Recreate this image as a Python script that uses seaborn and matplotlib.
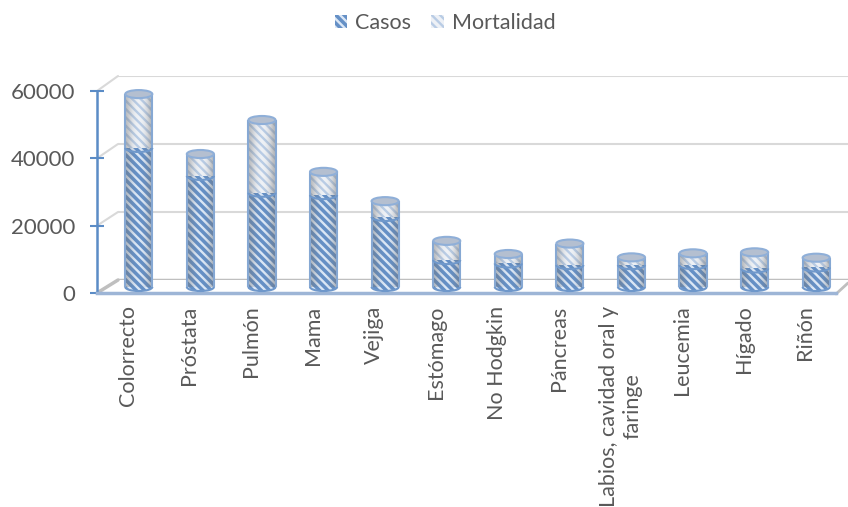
import numpy as np
import pandas as pd
import matplotlib
matplotlib.use("Agg")
import matplotlib.pyplot as plt
from matplotlib.lines import Line2D
from matplotlib.patches import Arc, Ellipse
import seaborn as sns

categorias = ["Colorrecto", "Próstata", "Pulmón", "Mama", "Vejiga", "Estómago",
              "No Hodgkin", "Páncreas", "Labios, cavidad oral y\nfaringe",
              "Leucemia", "Hígado", "Riñón"]
casos = [41300, 33000, 28000, 27300, 20800, 8000, 7000, 6500, 6500, 6500, 5500, 5800]
mortalidad = [16000, 6500, 21600, 6900, 4700, 5700, 2800, 6400, 2300, 3500, 4800, 2900]
valores_eje = [0, 20000, 40000, 60000]

W, H = 848, 507
TEXTO = "#595959"
AZUL = "#5b8cc6"

sns.set_theme(style="white")
plt.rcParams["font.family"] = ["Lato", "DejaVu Sans"]
plt.rcParams["hatch.linewidth"] = 1.7

datos = pd.DataFrame({"categoria": categorias, "casos": casos, "mortalidad": mortalidad})
datos["total"] = datos["casos"] + datos["mortalidad"]


def caja(izq, y_cero, y_max, ancho):
    """Axes rectangle from pixel positions measured from the top left."""
    return [izq / W, 1 - y_cero / H, ancho / W, (y_cero - y_max) / H]


fig = plt.figure(figsize=(W / 100, H / 100), dpi=100, facecolor="white")

# Back wall of the 3D box: grid lines and floor edge
ax_fondo = fig.add_axes(caja(118, 280, 76, 739), zorder=1)
ax_fondo.set_xlim(-0.5, 11.5)
ax_fondo.set_ylim(0, 60000)
ax_fondo.set_yticks(valores_eje)
ax_fondo.set_xticks([])
ax_fondo.tick_params(left=False, labelleft=False)
ax_fondo.grid(axis="y", color="#d9d9d9", lw=1.5)
ax_fondo.get_ygridlines()[0].set_color("#bfbfbf")
ax_fondo.get_ygridlines()[0].set_linewidth(2.5)
sns.despine(ax=ax_fondo, left=True, bottom=True)
ax_fondo.patch.set_alpha(0)

# Front plane carrying the value axis and the category labels
ax_frente = fig.add_axes(caja(97, 293, 91, 739), zorder=2)
ax_frente.set_xlim(-0.5, 11.5)
ax_frente.set_ylim(0, 60000)
ax_frente.patch.set_alpha(0)
ax_frente.set_yticks(valores_eje)
ax_frente.set_yticklabels([str(v) for v in valores_eje], fontsize=16, color=TEXTO)
ax_frente.set_xticks(range(len(categorias)))
ax_frente.set_xticklabels(categorias, rotation=90, fontsize=15.5, color=TEXTO,
                          ha="center", va="top", multialignment="center")
ax_frente.tick_params(axis="y", direction="inout", length=10, width=1.5, color=AZUL, pad=10.5, left=True)
ax_frente.tick_params(axis="x", length=0, pad=9)
sns.despine(ax=ax_frente, top=True, right=True)
ax_frente.spines["left"].set_color(AZUL)
ax_frente.spines["left"].set_linewidth(1.8)
ax_frente.spines["bottom"].set_color("#9db5d6")
ax_frente.spines["bottom"].set_linewidth(2.5)

# Diagonal edges joining the front plane with the back wall
for v in valores_eje:
    y_f = ax_frente.transData.transform((-0.5, v))
    y_b = ax_fondo.transData.transform((-0.5, v))
    puntos = fig.transFigure.inverted().transform([y_f, y_b])
    fig.add_artist(Line2D(puntos[:, 0], puntos[:, 1], color="#d9d9d9" if v else "#bfbfbf",
                          lw=1.5 if v else 2.5, zorder=0.5))
fig.add_artist(Line2D([836 / W, 848 / W], [1 - 294 / H, 1 - 283 / H], color="#bfbfbf", lw=2, zorder=0.5))

# Cylinders
ax = fig.add_axes(caja(108, 287, 85, 739), zorder=3)
ax.patch.set_alpha(0)
ANCHO = 0.44
ELIPSE = 2400
RAYADO = "\\\\\\\\"
CARA_CASOS, RAYA_CASOS = "#6590c6", "#dbe7f6"
CARA_MORT, RAYA_MORT = "#eef1f6", "#b9cce5"

sns.barplot(data=datos, x="categoria", y="total", order=categorias, ax=ax, width=ANCHO,
            color=CARA_MORT, saturation=1, hatch=RAYADO, edgecolor=RAYA_MORT, linewidth=0,
            label="Mortalidad", legend=False)
n_mort = len(ax.patches)
sns.barplot(data=datos, x="categoria", y="casos", order=categorias, ax=ax, width=ANCHO,
            color=CARA_CASOS, saturation=1, hatch=RAYADO, edgecolor=RAYA_CASOS, linewidth=0,
            label="Casos", legend=False)
ax.set_xlim(-0.5, 11.5)
ax.set_ylim(0, 60000)
ax.axis("off")

sombra = np.array([[0.42, 0.22, 0.06, 0.0, 0.0, 0.06, 0.22, 0.48]])
for i, (c, t) in enumerate(zip(casos, datos["total"])):
    izq, der = i - ANCHO / 2, i + ANCHO / 2
    # rounded foot of the cylinder
    ax.add_patch(Ellipse((i, 0), ANCHO, ELIPSE, facecolor=CARA_CASOS, edgecolor=RAYA_CASOS,
                         hatch=RAYADO, lw=0, clip_on=False, zorder=0.9))
    ax.add_patch(Arc((i, 0), ANCHO, ELIPSE, theta1=180, theta2=360, color="#6f98cb",
                     lw=1.5, clip_on=False, zorder=2.5))
    # side shading, clipped to the cylinder body
    im = ax.imshow(np.dstack([np.full_like(sombra, 0.45)] * 3 + [sombra]), extent=(izq, der, 0, t),
                   aspect="auto", interpolation="bicubic", zorder=2.2)
    im.set_clip_path(ax.patches[i])
    # outline of each segment
    ax.plot([izq, izq], [0, t], color="#86a8d3", lw=1.5, zorder=2.5, solid_capstyle="butt")
    ax.plot([der, der], [0, t], color="#86a8d3", lw=1.5, zorder=2.5, solid_capstyle="butt")
    ax.add_patch(Arc((i, c), ANCHO, ELIPSE, theta1=180, theta2=360, color="#6f98cb", lw=1.5, zorder=2.6))
    ax.add_patch(Ellipse((i, t), ANCHO, ELIPSE, facecolor="#b4bfd0", edgecolor="#8fafd8",
                         lw=1.5, zorder=2.7))
ax.set_xlim(-0.5, 11.5)
ax.set_ylim(0, 60000)

# Legend built from the drawn bars
h_mort = ax.patches[0]
h_casos = ax.patches[n_mort]
fig.legend([h_casos, h_mort], ["Casos", "Mortalidad"], loc="center",
           bbox_to_anchor=(445 / W, 1 - 23 / H), ncol=2, frameon=False,
           fontsize=15.5, handlelength=0.6, handleheight=0.6,
           handletextpad=0.35, columnspacing=0.95, labelcolor=TEXTO)

fig.savefig("out.png", dpi=100, facecolor="white")
